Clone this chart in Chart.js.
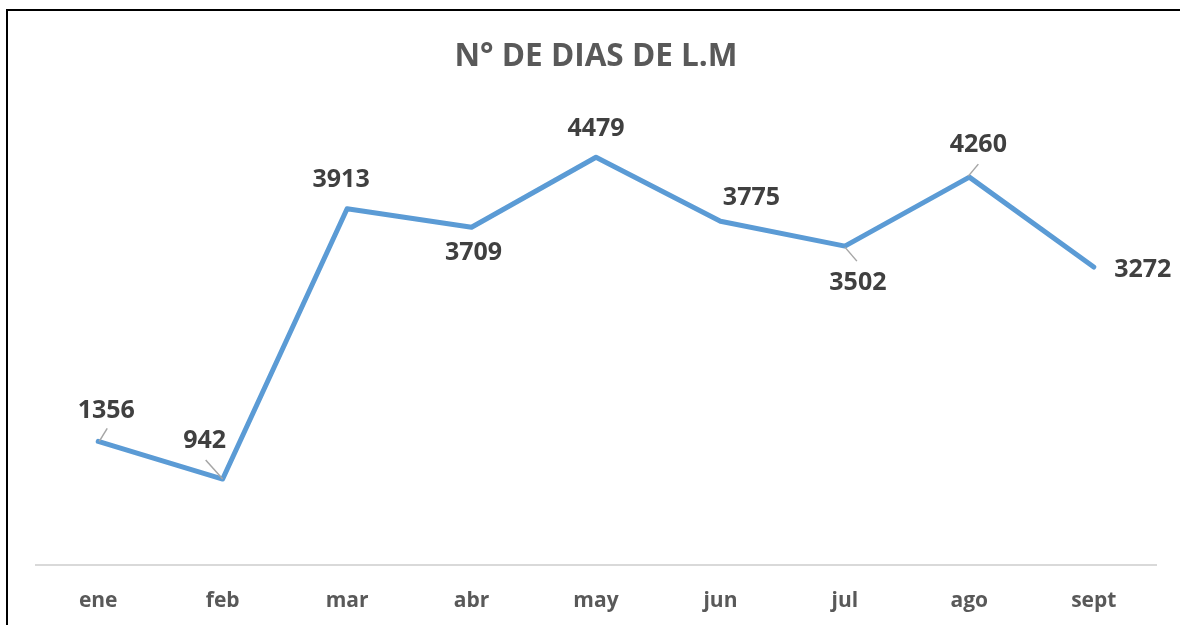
<!DOCTYPE html>
<html>
<head>
<meta charset="utf-8">
<script src="https://cdn.jsdelivr.net/npm/chart.js@4/dist/chart.umd.min.js"></script>
<style>
  html, body { margin: 0; padding: 0; background: #fff; }
  #wrap { width: 1180px; height: 625px; position: relative; }
</style>
</head>
<body>
<div id="wrap"><canvas id="graph" width="1180" height="625"></canvas></div>
<script>
var meses = ['ene', 'feb', 'mar', 'abr', 'may', 'jun', 'jul', 'ago', 'sept']
var dias = [1356, 942, 3913, 3709, 4479, 3775, 3502, 4260, 3272]

// where each value label sits relative to its point (like Excel's manual label moves)
var labelOffsets = [[8, -31], [-18, -38], [-6, -29], [2, 26], [0, -28], [31, -23], [13, 37], [9, -32], [49, 3]]
// leader lines: [start dx, start dy, end dx, end dy] relative to the point, null = none
var leaders = [[1, 0, 9, -13], [-17, -19, 0, 0], null, null, null, null, [0, 1, 12, 15], [-1, -1, 9, -13], null]

var $ = function (id) {
    return document.getElementById(id)
}

var frame = {
    id: 'frame',
    beforeDraw: function (chart) {
        var c = chart.ctx
        c.save()
        c.fillStyle = '#fff'
        c.fillRect(0, 0, chart.width, chart.height)
        c.strokeStyle = '#000'
        c.lineWidth = 2
        c.beginPath()
        c.moveTo(7, 640)
        c.lineTo(7, 10)
        c.lineTo(1200, 10)
        c.stroke()
        c.restore()
    }
}

var valueLabels = {
    id: 'valueLabels',
    afterDatasetsDraw: function (chart) {
        var c = chart.ctx
        var pts = chart.getDatasetMeta(0).data
        c.save()
        pts.forEach(function (p, i) {
            var l = leaders[i]
            if (l) {
                c.strokeStyle = '#a6a6a6'
                c.lineWidth = 1.5
                c.beginPath()
                c.moveTo(p.x + l[0], p.y + l[1])
                c.lineTo(p.x + l[2], p.y + l[3])
                c.stroke()
            }
            c.fillStyle = '#404040'
            c.font = 'bold 25px "Open Sans"'
            c.textAlign = 'center'
            c.textBaseline = 'middle'
            c.fillText(String(dias[i]), p.x + labelOffsets[i][0], p.y + labelOffsets[i][1])
        })
        c.restore()
    }
}

var chart = new Chart($('graph').getContext('2d'), {
    type: 'line',
    data: {
        labels: meses,
        datasets: [{
            label: 'N° DE DIAS DE L.M',
            data: dias,
            borderColor: '#5B9BD5',
            borderWidth: 5,
            borderCapStyle: 'round',
            borderJoinStyle: 'round',
            pointRadius: 0,
            tension: 0,
            fill: false
        }]
    },
    options: {
        responsive: false,
        animation: false,
        layout: { padding: { left: 36, right: 24, top: 0, bottom: -13 } },
        plugins: {
            legend: { display: false },
            tooltip: { enabled: false },
            title: {
                display: true,
                text: 'N° DE DIAS DE L.M',
                color: '#595959',
                font: { family: 'Open Sans', size: 31.5, weight: 'bold' },
                padding: { top: 38, bottom: 34 }
            }
        },
        scales: {
            x: {
                offset: true,
                grid: { display: false, drawTicks: false, offset: true },
                border: { display: true, color: '#d9d9d9', width: 2 },
                ticks: {
                    color: '#595959',
                    font: { family: 'Open Sans', size: 21, weight: 'bold' },
                    padding: 24
                }
            },
            y: {
                display: false,
                min: 0,
                max: 5000
            }
        }
    },
    plugins: [frame, valueLabels]
})
</script>
</body>
</html>
